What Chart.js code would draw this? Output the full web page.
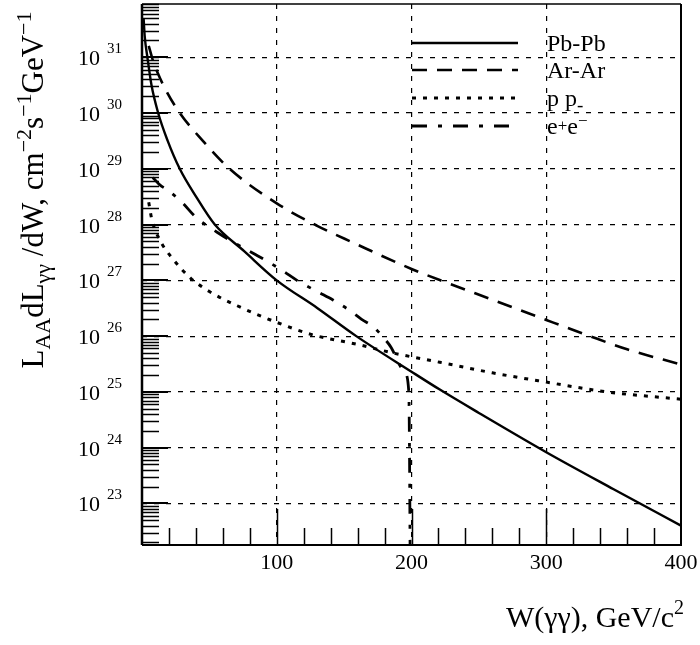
<!DOCTYPE html>
<html>
<head>
<meta charset="utf-8">
<script src="https://cdn.jsdelivr.net/npm/chart.js@4"></script>
<style>
  html, body { margin: 0; padding: 0; background: #fff; }
  #wrap { width: 700px; height: 645px; }
</style>
</head>
<body>
<div id="wrap"><canvas id="lumiChart" width="700" height="645"></canvas></div>
<script>
// W(γγ) in GeV/c^2, luminosity L_AA dL/dW in cm^-2 s^-1 GeV^-1
const wPbPb   = [1.2, 2, 4, 7, 12, 19, 28, 40, 54, 76, 100, 130, 159, 200, 221, 250, 300, 350, 400];
const lumPbPb = [5e31, 2.4e31, 1e31, 3.2e30, 1e30, 3.2e29, 1e29, 3.2e28, 1e28, 3.3e27, 1e27, 3.2e26, 1e26, 2.3e25, 1.1e25, 4.2e24, 8.3e23, 1.8e23, 4e22];

const wArAr   = [5, 8, 12, 18, 28, 45, 65, 100, 130, 157, 200, 226, 260, 300, 330, 360, 400];
const lumArAr = [1.6e31, 8.9e30, 5e30, 2.5e30, 1e30, 3.2e29, 1e29, 2.4e28, 9.5e27, 4.7e27, 1.6e27, 9.1e26, 4.5e26, 1.95e26, 1.05e26, 5.8e25, 3.1e25];

const wPP   = [5, 7.4, 13, 23, 36, 50, 73, 99, 127, 160, 186, 221, 260, 300, 345, 400];
const lumPP = [2.5e28, 1.2e28, 5.4e27, 2.4e27, 1.1e27, 6.3e26, 3.3e26, 1.8e26, 1.05e26, 7.1e25, 5e25, 3.4e25, 2.2e25, 1.5e25, 1e25, 7.4e24];

// e+e- stops at the kinematic limit near 200 GeV (last point is far below the axis)
const wEE   = [8, 13, 20, 30, 40, 56, 70, 93, 105, 115, 130, 142, 154, 163, 172, 179, 185, 191, 195, 198, 199.5];
const lumEE = [7e28, 5.2e28, 4e28, 2.45e28, 1.35e28, 7.2e27, 4.5e27, 2.2e27, 1.45e27, 1e27, 6.3e26, 4.4e26, 2.9e26, 2e26, 1.45e26, 9.5e25, 6.2e25, 3.1e25, 2.2e25, 1e25, 1e20];

const seriesNames = ['Pb-Pb', 'Ar-Ar', 'p p', 'e+e-'];

const xGridValues  = [100, 200, 300];
const xTickLabels  = ['100', '200', '300', '400'];
const xLabelValues = [100, 200, 300, 400];
const xMinorValues = [20, 40, 60, 80, 120, 140, 160, 180, 220, 240, 260, 280, 320, 340, 360, 380];
const yDecades     = [23, 24, 25, 26, 27, 28, 29, 30, 31];

const serif = '"Liberation Serif", "DejaVu Serif", serif';

function pairs(xs, ys) {
  return xs.map((x, i) => ({x: x, y: ys[i]}));
}

// draws text pieces [text, dy, scale] one after another, returns width
function drawRich(ctx, parts, x, y, size, measureOnly) {
  let cx = x;
  for (const [t, dy, sc] of parts) {
    ctx.font = Math.round(size * sc) + 'px ' + serif;
    if (!measureOnly) ctx.fillText(t, cx, y + dy);
    cx += ctx.measureText(t).width;
  }
  return cx - x;
}

const legendParts = [
  [['Pb-Pb', 0, 1]],
  [['Ar-Ar', 0, 1]],
  [['p p', 0, 1], ['-', 5, 0.8]],
  [['e', 0, 1], ['+', -3, 0.7], ['e', 0, 1], ['\u2212', -8, 0.7]]
];

const decorPlugin = {
  id: 'decor',
  afterDatasetsDraw(chart) {
    const ctx = chart.ctx;
    const a = chart.chartArea;
    const xs = chart.scales.x, ys = chart.scales.y;
    ctx.save();
    ctx.fillStyle = '#000';
    ctx.strokeStyle = '#000';
    ctx.setLineDash([]);

    // frame
    ctx.lineWidth = 2.5;
    ctx.beginPath(); ctx.moveTo(a.left, a.top); ctx.lineTo(a.left, a.bottom); ctx.stroke();
    ctx.lineWidth = 2;
    ctx.beginPath(); ctx.moveTo(a.left, a.bottom); ctx.lineTo(a.right, a.bottom); ctx.lineTo(a.right, a.top); ctx.stroke();
    ctx.lineWidth = 1.5;
    ctx.beginPath(); ctx.moveTo(a.left, a.top); ctx.lineTo(a.right, a.top); ctx.stroke();

    // inward ticks, x
    ctx.lineWidth = 1.5;
    ctx.beginPath();
    xMinorValues.forEach(v => {
      const px = Math.round(xs.getPixelForValue(v)) + 0.5;
      ctx.moveTo(px, a.bottom); ctx.lineTo(px, a.bottom - 17);
    });
    xGridValues.forEach(v => {
      const px = Math.round(xs.getPixelForValue(v)) + 0.5;
      ctx.moveTo(px, a.bottom); ctx.lineTo(px, a.bottom - 36);
    });
    ctx.stroke();

    // inward ticks, y (log)
    ctx.beginPath();
    for (let d = 22; d <= 31; d++) {
      for (let k = 2; k <= 9; k++) {
        const v = k * Math.pow(10, d);
        if (v < ys.min || v > ys.max) continue;
        const py = Math.round(ys.getPixelForValue(v)) + 0.5;
        ctx.moveTo(a.left, py); ctx.lineTo(a.left + 17, py);
      }
    }
    ctx.stroke();
    ctx.lineWidth = 2;
    ctx.beginPath();
    yDecades.forEach(d => {
      const py = Math.round(ys.getPixelForValue(Math.pow(10, d)));
      ctx.moveTo(a.left, py); ctx.lineTo(a.left + 26, py);
    });
    ctx.stroke();

    // y tick labels 10^n
    yDecades.forEach(d => {
      const py = ys.getPixelForValue(Math.pow(10, d));
      ctx.font = '22px ' + serif;
      ctx.textAlign = 'right';
      ctx.textBaseline = 'alphabetic';
      ctx.fillText('10', a.left - 42, py + 8);
      ctx.textAlign = 'left';
      ctx.font = '15px ' + serif;
      ctx.fillText(String(d), a.left - 35, py - 4);
    });

    // x tick labels
    ctx.font = '22px ' + serif;
    ctx.textAlign = 'center';
    xLabelValues.forEach((v, i) => {
      ctx.fillText(xTickLabels[i], xs.getPixelForValue(v), a.bottom + 24);
    });

    // x title, right aligned
    ctx.textAlign = 'left';
    const xt = [['W(\u03b3\u03b3), GeV/c', 0, 1], ['2', -13, 0.65]];
    const xw = drawRich(ctx, xt, 0, 0, 30, true);
    drawRich(ctx, xt, 684 - xw, 627, 30);

    // y title, rotated
    const yt = [['L', 0, 1], ['AA', 7, 0.7], ['dL', 0, 1], ['\u03b3\u03b3', 7, 0.7], [' /dW, cm', 0, 1],
                ['\u22122', -12, 0.7], ['s', 0, 1], ['\u22121', -12, 0.7], ['GeV', 0, 1], ['\u22121', -12, 0.7]];
    const yw = drawRich(ctx, yt, 0, 0, 31, true);
    ctx.save();
    ctx.translate(43, 190 + yw / 2);
    ctx.rotate(-Math.PI / 2);
    drawRich(ctx, yt, 0, 0, 31);
    ctx.restore();

    // legend
    const rows = [43, 70, 98, 126];
    chart.data.datasets.forEach((ds, i) => {
      ctx.save();
      ctx.lineWidth = ds.borderWidth;
      ctx.setLineDash(ds.borderDash || []);
      ctx.beginPath();
      ctx.moveTo(412, rows[i]); ctx.lineTo(518, rows[i]);
      ctx.stroke();
      ctx.restore();
      ctx.textAlign = 'left';
      drawRich(ctx, legendParts[i], 547, rows[i] + 8, 24);
    });
    ctx.restore();
  }
};

const gridOpts = {color: '#000', lineWidth: 1.2, drawTicks: false};

new Chart(document.getElementById('lumiChart'), {
  type: 'line',
  data: {
    datasets: [
      {label: seriesNames[0], data: pairs(wPbPb, lumPbPb), borderColor: '#000', borderWidth: 2.4, borderDash: []},
      {label: seriesNames[1], data: pairs(wArAr, lumArAr), borderColor: '#000', borderWidth: 2.6, borderDash: [15, 10]},
      {label: seriesNames[2], data: pairs(wPP, lumPP), borderColor: '#000', borderWidth: 3, borderDash: [4, 7]},
      {label: seriesNames[3], data: pairs(wEE, lumEE), borderColor: '#000', borderWidth: 2.8, borderDash: [15, 11, 4, 11]}
    ]
  },
  options: {
    responsive: false,
    animation: false,
    devicePixelRatio: 1,
    layout: {padding: {left: 142, right: 19, top: 4, bottom: 100}},
    plugins: {legend: {display: false}, tooltip: {enabled: false}},
    elements: {
      point: {radius: 0},
      line: {cubicInterpolationMode: 'monotone', fill: false}
    },
    scales: {
      x: {
        type: 'linear', min: 0, max: 400,
        afterBuildTicks: s => { s.ticks = xGridValues.map(v => ({value: v})); },
        ticks: {display: false},
        grid: gridOpts,
        border: {display: false, dash: [5, 7]}
      },
      y: {
        type: 'logarithmic', min: 1.8e22, max: 9e31,
        afterBuildTicks: s => { s.ticks = yDecades.map(d => ({value: Math.pow(10, d)})); },
        ticks: {display: false},
        grid: gridOpts,
        border: {display: false, dash: [5, 7]}
      }
    }
  },
  plugins: [decorPlugin]
});
</script>
</body>
</html>
